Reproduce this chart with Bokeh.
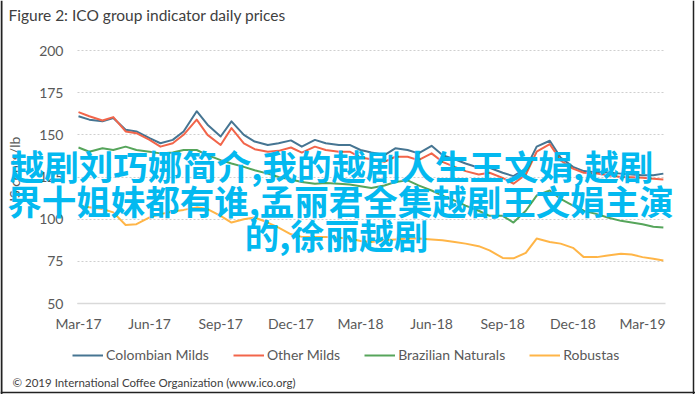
import math
import pandas as pd
from bokeh.plotting import figure
from bokeh.models import Label, Legend, LegendItem, FixedTicker, DatetimeTickFormatter, Range1d, ColumnDataSource, Span
from bokeh.embed import file_html
from bokeh.resources import INLINE

dates = ["2017-03-01","2017-03-15","2017-04-01","2017-04-15","2017-05-01","2017-05-15","2017-06-01","2017-06-15",
         "2017-07-01","2017-07-15","2017-08-01","2017-08-15","2017-09-01","2017-09-15","2017-10-01","2017-10-15",
         "2017-11-01","2017-11-15","2017-12-01","2017-12-15","2018-01-01","2018-01-15","2018-02-01","2018-02-15",
         "2018-03-01","2018-03-15","2018-04-01","2018-04-15","2018-05-01","2018-05-15","2018-06-01","2018-06-15",
         "2018-07-01","2018-07-15","2018-08-01","2018-08-15","2018-09-01","2018-09-15","2018-10-01","2018-10-15",
         "2018-11-01","2018-11-15","2018-12-01","2018-12-15","2019-01-01","2019-01-15","2019-02-01","2019-02-15",
         "2019-03-01","2019-03-15","2019-03-28"]

colombian_milds = [161, 159, 158, 160, 153, 152, 148, 145, 147, 152, 164, 156, 149, 158, 150, 146, 144, 145, 146.7, 143,
                   147, 145, 144, 144, 141, 139.5, 138, 142, 141, 139, 143.5, 138, 135.5, 133, 130.5, 130.5, 127.5, 125.5,
                   130, 143, 146.5, 136.6, 131, 128.5, 127.7, 127.7, 127, 126.5, 126, 126, 127]
other_milds = [163.5, 161, 158.5, 160.5, 152, 151, 147, 143, 145, 150, 159, 150, 144, 154, 145, 141.5, 140, 140.5, 142.5,
               139.5, 143, 141, 140, 140, 136.6, 135.5, 134, 137, 137, 135, 139, 134, 131, 128.5, 126.5, 127.5, 124.5, 121,
               126.5, 140, 144.5, 134.8, 130, 127.5, 127, 126, 125, 124.8, 124.5, 124, 123.5]
brazilian_naturals = [142.5, 140, 142, 141, 143, 141, 140, 139, 139.5, 141, 141, 138, 135, 133, 131, 129, 127, 125, 123.5,
                      122, 121, 121.5, 121, 120.5, 119.5, 118.5, 120, 122, 123, 120, 117, 114, 111, 108, 105, 102, 102, 98,
                      105, 114, 117, 112, 108, 105, 103, 101, 99, 98, 97, 95.5, 95]
robustas = [108, 107, 106, 104, 96.5, 97, 101, 103, 104.5, 105.5, 107, 106, 102, 98, 100, 101, 98, 95, 91, 89.5, 89.5, 89.5,
            89, 88.5, 87, 86.5, 87.5, 88, 88.5, 88.5, 88, 87.5, 86.5, 85.5, 84, 81.5, 77, 76.8, 80, 88.5, 86.5, 85.5, 83,
            77.5, 77.5, 78.5, 79.5, 79, 77.5, 76.5, 75.5]

series_names = ["Colombian Milds", "Other Milds", "Brazilian Naturals", "Robustas"]
series_colors = ["#467592", "#F2654A", "#56A55B", "#FFB547"]
tick_dates = ["2017-03-01","2017-06-01","2017-09-01","2017-12-01","2018-03-01","2018-06-01","2018-09-01","2018-12-01","2019-03-01"]
y_ticks = [50, 75, 100, 125, 150, 175, 200]

title_text = "Figure 2: ICO group indicator daily prices"
y_label_text = "US cents/lb"
credit_text = "\u00a9 2019 International Coffee Organization (www.ico.org)"
overlay_lines = ["越剧刘巧娜简介,我的越剧人生王文娟,越剧",
                 "界十姐妹都有谁,孟丽君全集越剧王文娟主演",
                 "的,徐丽越剧"]

# ---- geometry (pixels) ----
W, H = 695, 394
X_REF_PX, PX_PER_DAY = 78, (642 - 78) / 730.0      # Mar-17 tick at 78 px, Mar-19 at 642 px
Y_TOP_PX, Y_BOT_PX = 50, 303                         # 200 and 50 gridlines
PLOT_L, PLOT_R = 77, 665
V_PER_PX = 150.0 / (Y_BOT_PX - Y_TOP_PX)
t0 = pd.Timestamp(tick_dates[0])

def px_to_time(px):
    return t0 + pd.Timedelta(days=(px - X_REF_PX) / PX_PER_DAY)

def px_to_ms(px):
    return px_to_time(px).value / 1e6

x_start, x_end = px_to_time(0), px_to_time(W)
y_start = 200 - (H - Y_TOP_PX) * V_PER_PX
y_end = 200 + Y_TOP_PX * V_PER_PX

FONT = "Lato"
src = ColumnDataSource(dict(x=pd.to_datetime(dates), c=colombian_milds, o=other_milds, b=brazilian_naturals, r=robustas))

p = figure(width=W, height=H, output_backend="svg", toolbar_location=None,
           x_axis_type="datetime",
           x_range=Range1d(x_start, x_end), y_range=Range1d(y_start, y_end),
           min_border=0, min_border_left=0, min_border_right=0, min_border_top=0, min_border_bottom=0)
p.outline_line_color = None
p.background_fill_color = "white"
p.border_fill_color = "white"

# grid
grid = p.ygrid[0]
grid.ticker = FixedTicker(ticks=y_ticks)
grid.grid_line_color = "#CFCFCF"
grid.grid_line_dash = "2 2"
if "cross_bounds" in grid.properties():
    grid.cross_bounds = (px_to_ms(PLOT_L), px_to_ms(PLOT_R))
    grid.bounds = (50, 200)
else:
    grid.grid_line_color = None
    p.segment(x0=[px_to_time(PLOT_L)] * len(y_ticks), x1=[px_to_time(PLOT_R)] * len(y_ticks),
              y0=y_ticks, y1=y_ticks, line_color="#CFCFCF", line_dash="2 2", line_width=1)
p.xgrid.grid_line_color = None

renderers = []
for key, col in zip(["c", "o", "b", "r"], series_colors):
    renderers.append(p.line("x", key, source=src, line_color=col, line_width=2, line_join="round"))

# axes drawn at fixed locations inside the canvas
yax = p.yaxis[0]
yax.fixed_location = px_to_ms(PLOT_L)
yax.bounds = (50, 200)
yax.ticker = FixedTicker(ticks=y_ticks)
yax.axis_line_color = None
yax.major_tick_line_color = None
yax.minor_tick_line_color = None
yax.major_tick_out = 0
yax.major_tick_in = 0
yax.major_label_standoff = 14
yax.major_label_text_font = FONT
yax.major_label_text_font_size = "14px"
yax.major_label_text_color = "#595959"

xax = p.xaxis[0]
xax.fixed_location = 50
xax.bounds = (px_to_ms(PLOT_L), px_to_ms(PLOT_R))
xax.ticker = FixedTicker(ticks=[pd.Timestamp(d).value / 1e6 for d in tick_dates])
xax.formatter = DatetimeTickFormatter(days="%b-%y", months="%b-%y", years="%b-%y")
xax.axis_line_color = "#D9D9D9"
xax.axis_line_width = 1.5
xax.major_tick_line_color = None
xax.minor_tick_line_color = None
xax.major_tick_out = 0
xax.major_tick_in = 0
xax.major_label_standoff = 11
xax.major_label_text_font = FONT
xax.major_label_text_font_size = "14px"
xax.major_label_text_color = "#595959"

legend = Legend(items=[LegendItem(label=n, renderers=[r]) for n, r in zip(series_names, renderers)],
                orientation="horizontal", location=(72, 31), padding=0, margin=0, spacing=24,
                glyph_width=31, glyph_height=16, label_height=16, label_standoff=3,
                label_text_font=FONT, label_text_font_size="14px", label_text_color="#595959",
                border_line_color=None, background_fill_alpha=0)
p.add_layout(legend, "center")

def add_label(text, x, y, size, color, align="left", angle=0, font=FONT, style="normal"):
    p.add_layout(Label(text=text, x=x, y=H - y, x_units="screen", y_units="screen",
                       text_font=font, text_font_size=size, text_color=color,
                       text_align=align, text_baseline="middle", angle=angle, text_font_style=style))

add_label(title_text, 8, 14.5, "15.5px", "#404040")
add_label(y_label_text, 14, 172, "14px", "#595959", align="center", angle=math.pi / 2)
add_label(credit_text, 12, 381.5, "11.5px", "#404040")

for txt, cx, cy in zip(overlay_lines, [331, 340, 336], [164.5, 199.5, 233]):
    add_label(txt, cx, cy, "34.5px", "#03B9F0", align="center", font="Noto Sans CJK SC", style="bold")

# outer frame of the original figure (left, right, bottom)
p.add_layout(Span(location=1, location_units="screen", dimension="height", line_color="#222222", line_width=2))
p.add_layout(Span(location=W - 2, location_units="screen", dimension="height", line_color="#222222", line_width=1.5))
p.add_layout(Span(location=2, location_units="screen", dimension="width", line_color="#222222", line_width=1.5))

open("out.html", "w").write(file_html(p, INLINE))
